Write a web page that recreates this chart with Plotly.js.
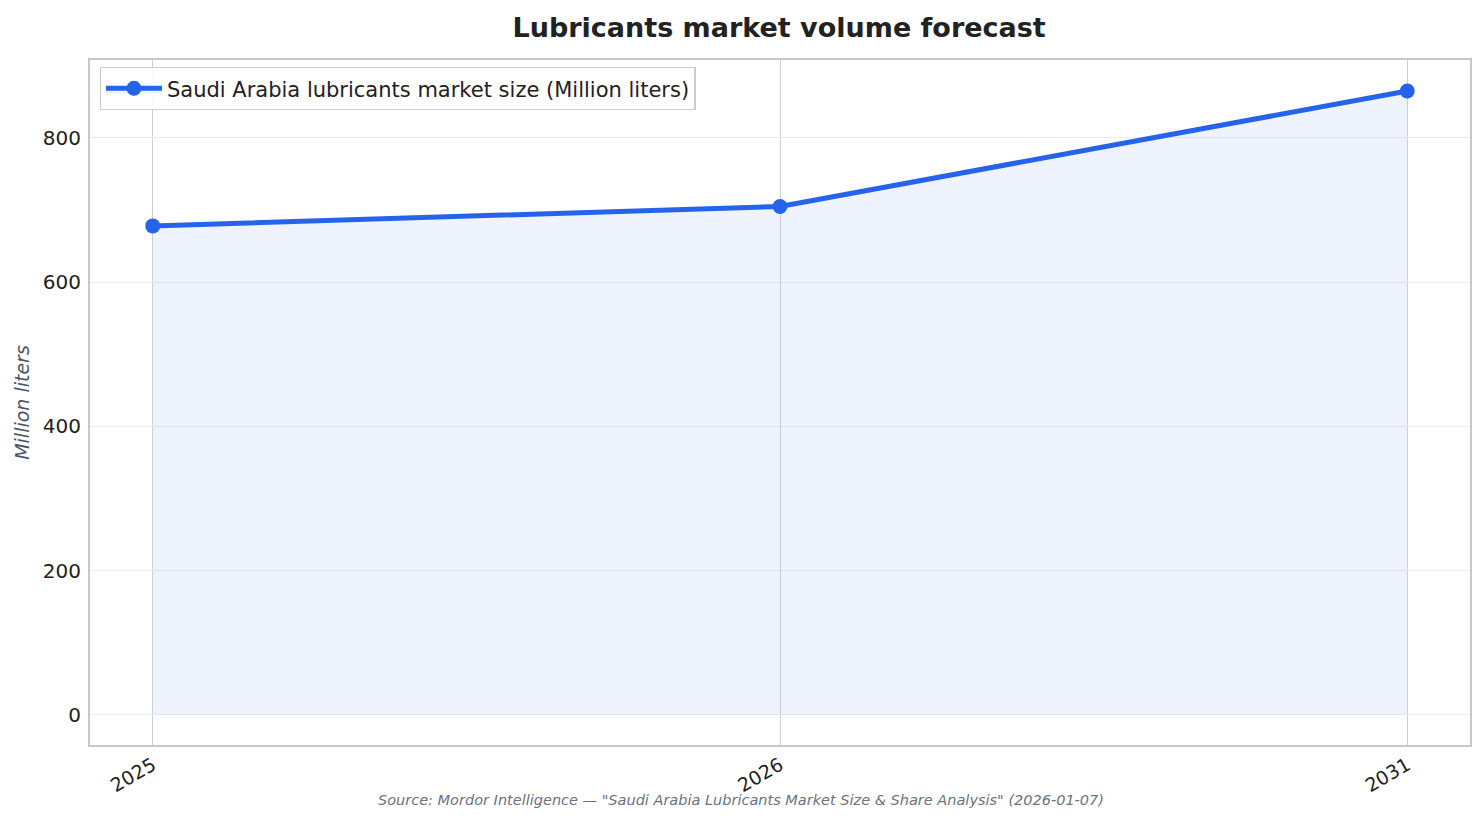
<!DOCTYPE html>
<html>
<head>
<meta charset="utf-8">
<script src="https://cdn.plot.ly/plotly-3.0.1.min.js"></script>
<style>
  html, body { margin: 0; padding: 0; background: #ffffff; }
  #plot { width: 1484px; height: 823px; }
</style>
</head>
<body>
<div id="plot"></div>
<script>
// values
var years = ["2025", "2026", "2031"];
var marketSize = [678, 705, 865];

var seriesName = "Saudi Arabia lubricants market size (Million liters)";
var sourceNote = 'Source: Mordor Intelligence \u2014 "Saudi Arabia Lubricants Market Size & Share Analysis" (2026-01-07)';

var font = "DejaVu Sans, sans-serif";

var trace = {
  x: years,
  y: marketSize,
  name: seriesName,
  type: "scatter",
  mode: "lines+markers",
  fill: "tozeroy",
  fillcolor: "rgba(37,99,235,0.08)",
  line: { color: "#2563eb", width: 5 },
  marker: { color: "#2563eb", size: 15 }
};

var layout = {
  width: 1484,
  height: 823,
  paper_bgcolor: "#ffffff",
  plot_bgcolor: "#ffffff",
  margin: { l: 90, r: 14, t: 60, b: 78 },
  font: { family: font, color: "#222222" },
  title: {
    text: "<b>Lubricants market volume forecast</b>",
    font: { family: font, size: 27, color: "#222222" },
    x: 0.525, xanchor: "center",
    y: 0.967, yanchor: "middle"
  },
  showlegend: true,
  legend: {
    x: 0.007, y: 0.99, xanchor: "left", yanchor: "top",
    bgcolor: "rgba(255,255,255,0.9)",
    bordercolor: "#cccccc", borderwidth: 1.3,
    itemwidth: 56,
    font: { family: font, size: 21, color: "#222222" }
  },
  xaxis: {
    type: "category",
    range: [-0.1, 2.1],
    tickangle: -30,
    tickfont: { family: font, size: 19, color: "#222222" },
    showgrid: true, gridcolor: "#d0d0d8", gridwidth: 1,
    showline: true, linecolor: "#c8c8c8", linewidth: 2, mirror: true,
    ticks: "", zeroline: false
  },
  yaxis: {
    range: [-41.6, 908],
    dtick: 200, tick0: 0,
    tickfont: { family: font, size: 20, color: "#222222" },
    showgrid: true, gridcolor: "#ececec", gridwidth: 1,
    showline: true, linecolor: "#c8c8c8", linewidth: 2, mirror: true,
    ticks: "", ticklabelstandoff: 3, zeroline: false,
    title: {
      text: "<i>Million liters</i>",
      font: { family: font, size: 19, color: "#4b5563" },
      standoff: 8
    }
  },
  annotations: [{
    text: "<i>" + sourceNote + "</i>",
    xref: "paper", yref: "paper",
    x: 0.472, y: -0.08, xanchor: "center", yanchor: "middle",
    showarrow: false,
    font: { family: font, size: 14.5, color: "#6b7280" }
  }]
};

Plotly.newPlot("plot", [trace], layout, { displayModeBar: false, staticPlot: true });
</script>
</body>
</html>
